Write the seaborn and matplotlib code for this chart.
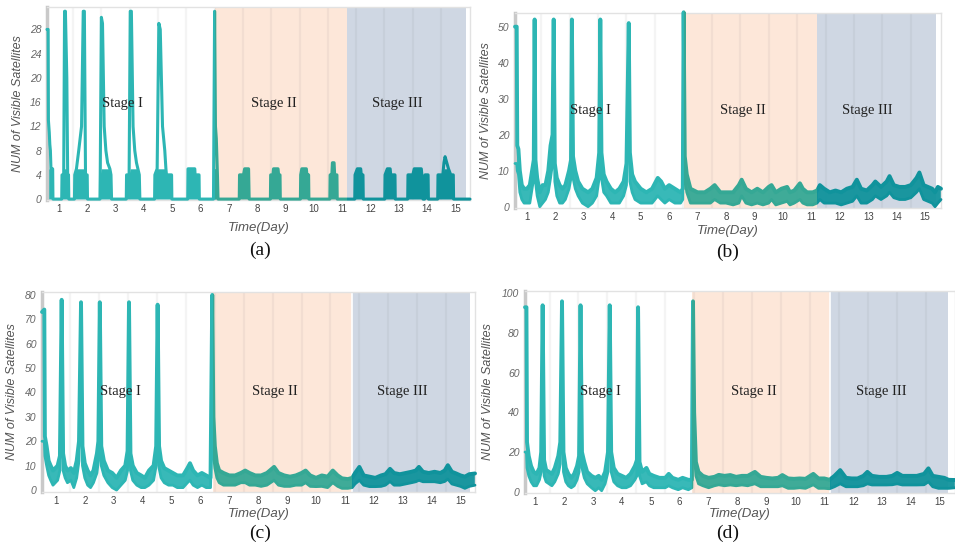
import numpy as np
import matplotlib
matplotlib.use("Agg")
import matplotlib.pyplot as plt
import matplotlib.transforms as mtransforms
from matplotlib.patches import Rectangle
import seaborn as sns

# ---------------- data ----------------
# Panel (a): discrete counts
a_day = [0.58, 0.62, 0.63, 0.66, 0.68, 0.70, 0.72, 0.78, 0.79,
         1.10, 1.11, 1.17, 1.20, 1.23, 1.28, 1.31, 1.34, 1.35,
         1.55, 1.56, 1.62, 1.70, 1.80, 1.86, 1.90, 1.94, 2.00, 2.01,
         2.45, 2.46, 2.50, 2.54, 2.60, 2.66, 2.72, 2.80, 2.84, 2.86,
         3.38, 3.39, 3.48, 3.52, 3.56, 3.62, 3.68, 3.74, 3.79, 3.84, 3.86,
         4.38, 4.39, 4.47, 4.53, 4.58, 4.66, 4.74, 4.78, 4.80, 4.98, 4.99,
         5.55, 5.56, 5.80, 5.81, 5.95, 5.96,
         6.46, 6.50, 6.53, 6.56, 6.60, 6.62,
         7.37, 7.38, 7.52, 7.56, 7.70, 7.72,
         8.47, 8.48, 8.56, 8.58, 8.74, 8.76, 8.81, 8.82,
         9.53, 9.54, 9.58, 9.74, 9.76, 9.82, 9.83,
         10.57, 10.58, 10.64, 10.66, 10.72, 10.74, 10.82, 10.83,
         11.45, 11.46, 11.54, 11.66, 11.68, 11.74, 11.75,
         12.51, 12.52, 12.60, 12.70, 12.72, 12.87, 12.88,
         13.32, 13.33, 13.50, 13.55, 13.80, 13.82, 13.86, 13.92, 13.93, 14.04, 14.05,
         14.38, 14.39, 14.56, 14.60, 14.64, 14.70, 14.76, 14.84, 14.93, 14.94,
         15.52]
a_val = [28, 28, 13, 11, 9, 8, 5, 5, 0,
         0, 4, 4, 31, 31, 20, 4, 4, 0,
         0, 4, 5, 8, 12, 31, 31, 4, 4, 0,
         0, 4, 30, 29, 12, 8, 6, 5, 4, 0,
         0, 4, 4, 31, 31, 12, 8, 6, 5, 4, 0,
         0, 4, 5, 29, 28, 12, 8, 5, 4, 4, 0,
         0, 5, 5, 4, 4, 0,
         0, 31, 12, 10, 4, 0,
         0, 4, 4, 5, 5, 0,
         0, 4, 4, 5, 5, 4, 4, 0,
         0, 4, 5, 5, 4, 4, 0,
         0, 4, 4, 6, 6, 4, 4, 0,
         0, 4, 5, 5, 4, 4, 0,
         0, 4, 5, 5, 4, 4, 0,
         0, 4, 4, 5, 5, 4, 0, 0, 4, 4, 0,
         0, 4, 4, 6, 7, 6, 5, 4, 4, 0,
         0]

# Panel (b): upper / lower envelope of the noisy count
b_day = [0.58, 0.64, 0.66, 0.70, 0.75, 0.82, 0.90, 1.00, 1.10, 1.18, 1.24, 1.27, 1.30, 1.36,
         1.45, 1.55, 1.65, 1.75, 1.83, 1.90, 1.94, 1.98, 2.05, 2.15, 2.25, 2.35, 2.48, 2.55,
         2.58, 2.62, 2.70, 2.80, 2.95, 3.15, 3.30, 3.45, 3.54, 3.58, 3.62, 3.70, 3.80, 3.95,
         4.10, 4.25, 4.40, 4.50, 4.58, 4.62, 4.70, 4.80, 5.00, 5.20, 5.40, 5.60, 5.72, 5.85,
         6.00, 6.20, 6.40, 6.48, 6.51, 6.55, 6.62, 6.75, 7.00, 7.25, 7.45, 7.60, 7.80, 8.00,
         8.25, 8.45, 8.55, 8.70, 8.90, 9.10, 9.30, 9.50, 9.60, 9.75, 9.95, 10.15, 10.25, 10.40,
         10.60, 10.70, 10.85, 11.05, 11.20, 11.30, 11.45, 11.65, 11.85, 12.05, 12.25, 12.45,
         12.60, 12.75, 12.95, 13.15, 13.25, 13.45, 13.65, 13.75, 13.90, 14.10, 14.30, 14.50,
         14.70, 14.80, 14.95, 15.10, 15.25, 15.35, 15.45, 15.56]
b_hi = [50, 50, 17, 16, 10, 6, 5, 5, 6, 10, 13, 52, 13, 8,
        4, 6, 6, 10, 17, 20, 52, 12, 8, 6, 5, 6, 10, 13,
        52, 14, 10, 7, 5, 4, 5, 8, 15, 52, 15, 9, 7, 5,
        4, 5, 7, 12, 51, 15, 9, 7, 5, 4, 5, 8, 7, 5,
        6, 5, 4, 5, 54, 14, 9, 5, 4, 4, 5, 6, 4, 4,
        4, 6, 7.5, 5, 4, 5, 4, 5.5, 6, 4, 5, 5.5, 4, 4.5,
        6.5, 5, 4, 4, 4.5, 6, 5, 4, 4.5, 4, 5, 5.5,
        7.5, 5, 4.5, 6, 7, 5.5, 7, 8.5, 6, 5.5, 5.5, 6,
        8, 9.5, 6, 5.5, 5, 4, 5.5, 5]
b_lo = [12, 12, 10, 9, 4, 2, 1, 1, 1, 5, 8, 40, 7, 3,
        0, 1, 2, 4, 8, 12, 40, 7, 3, 1, 1, 2, 5, 8,
        40, 8, 5, 3, 1, 0, 1, 3, 8, 40, 8, 4, 3, 1,
        1, 1, 3, 6, 40, 7, 4, 2, 1, 1, 1, 3, 2, 1,
        2, 1, 1, 2, 40, 8, 4, 1, 1, 1, 1, 2, 1, 1,
        0.5, 1, 3, 1, 0.5, 1, 0.5, 1, 2, 0.5, 1, 1.5, 0.5, 1,
        2, 1, 0.5, 0.5, 1, 2, 1, 1, 1, 0.5, 1, 1.5,
        3, 1, 1, 2, 3, 2, 3, 4, 2.5, 2, 2, 2.5,
        4, 5, 2, 1.5, 1, 0, 1, 2]

# Panel (c)
c_day = [0.52, 0.60, 0.62, 0.68, 0.75, 0.82, 0.90, 0.98, 1.06, 1.14, 1.20, 1.25, 1.32, 1.40,
         1.52, 1.62, 1.72, 1.80, 1.87, 1.92, 2.00, 2.10, 2.20, 2.30, 2.42, 2.47, 2.52, 2.57,
         2.66, 2.80, 2.95, 3.10, 3.25, 3.40, 3.48, 3.53, 3.58, 3.66, 3.80, 3.95, 4.08, 4.22,
         4.38, 4.47, 4.52, 4.57, 4.64, 4.75, 4.90, 5.05, 5.20, 5.40, 5.55, 5.64, 5.75, 5.90,
         6.05, 6.20, 6.35, 6.41, 6.45, 6.50, 6.57, 6.65, 6.80, 7.00, 7.20, 7.40, 7.55, 7.70,
         7.90, 8.10, 8.30, 8.55, 8.70, 8.90, 9.10, 9.30, 9.50, 9.64, 9.80, 10.00, 10.20, 10.40,
         10.58, 10.75, 10.90, 11.10, 11.25, 11.35, 11.50, 11.65, 11.85, 12.05, 12.25, 12.40,
         12.56, 12.70, 12.90, 13.10, 13.30, 13.45, 13.56, 13.70, 13.90, 14.10, 14.30, 14.45,
         14.56, 14.70, 14.85, 15.00, 15.15, 15.30, 15.50]
c_hi = [73, 74, 22, 18, 12, 10, 8, 9, 10, 14, 78, 15, 10, 8,
        9, 7, 12, 20, 77, 18, 11, 8, 6, 8, 15, 20, 77, 18,
        12, 8, 7, 5, 8, 10, 16, 77, 15, 10, 7, 6, 5, 8,
        10, 18, 76, 18, 12, 9, 8, 7, 6, 6, 9, 11, 8, 6,
        7, 6, 5, 80, 30, 18, 11, 8, 7, 6, 6, 7, 8, 7,
        6, 6, 7, 9.5, 7, 6, 5.5, 6, 7, 8, 6, 5, 6, 5.5,
        8, 6, 4.8, 4.5, 5, 7, 9.5, 6, 5.5, 5, 6, 6.5,
        8.7, 7, 6.5, 7, 7.5, 8, 9.5, 7.5, 7, 7.5, 7, 8,
        10.2, 7.5, 6.8, 6, 5.5, 6.5, 6.8]
c_lo = [20, 20, 14, 10, 6, 4, 2, 3, 4, 8, 60, 8, 5, 3,
        4, 1, 5, 12, 60, 10, 5, 2, 1, 3, 7, 12, 60, 10,
        6, 3, 1, 0, 2, 4, 8, 60, 8, 4, 2, 1, 1, 2,
        4, 10, 58, 9, 5, 3, 2, 2, 1, 1, 3, 4, 2, 1,
        2, 1, 1, 30, 15, 9, 5, 3, 2, 2, 2, 3, 3, 2,
        2, 1.5, 2, 4, 2, 1.5, 1.5, 2, 2, 3, 1.5, 1.4, 1.5, 1,
        3, 1.5, 0.7, 0.7, 1, 2.5, 4, 2, 1.4, 1.4, 1.5, 2,
        3.5, 2, 2, 2.5, 3, 3.4, 4, 3.4, 3.4, 3.4, 3, 3.5,
        4.5, 2.5, 2, 1.5, 0.7, 1.5, 2]

# Panel (d)
d_day = [0.65, 0.70, 0.72, 0.78, 0.86, 0.95, 1.05, 1.15, 1.21, 1.26, 1.31, 1.38, 1.48, 1.58,
         1.68, 1.80, 1.87, 1.93, 1.98, 2.06, 2.15, 2.25, 2.35, 2.45, 2.52, 2.57, 2.62, 2.70,
         2.80, 2.95, 3.08, 3.20, 3.30, 3.42, 3.52, 3.58, 3.63, 3.72, 3.85, 4.00, 4.15, 4.30,
         4.45, 4.52, 4.56, 4.61, 4.70, 4.85, 4.95, 5.10, 5.30, 5.50, 5.62, 5.75, 5.95, 6.10,
         6.30, 6.42, 6.46, 6.50, 6.56, 6.65, 6.80, 7.00, 7.20, 7.35, 7.55, 7.75, 7.95, 8.15,
         8.35, 8.60, 8.80, 9.00, 9.20, 9.40, 9.55, 9.75, 9.95, 10.15, 10.35, 10.62, 10.80, 11.00,
         11.18, 11.35, 11.55, 11.75, 11.95, 12.15, 12.35, 12.49, 12.65, 12.90, 13.15, 13.35,
         13.52, 13.70, 13.95, 14.20, 14.45, 14.60, 14.75, 14.95, 15.15, 15.30, 15.52]
d_hi = [93, 93, 25, 18, 13, 10, 9, 12, 20, 94, 16, 11, 10, 9,
        12, 18, 25, 96, 20, 12, 9, 7, 9, 13, 18, 94, 20, 15,
        10, 8, 7, 8, 6, 10, 20, 94, 20, 12, 9, 8, 7, 9,
        13, 16, 93, 15, 10, 12, 9, 8, 7, 7, 9, 7, 6, 7,
        6, 6, 96, 40, 15, 10, 8, 7, 7.5, 8.5, 8, 8.4, 7.5, 8,
        8, 10, 7.5, 7, 6.7, 7, 8.4, 6.7, 6.5, 6.7, 6.5, 9, 6.7, 6.7,
        6, 8, 10.9, 7, 6.7, 6.7, 8, 10, 8, 7.5, 7.5, 8,
        9.5, 8, 8, 8, 9, 11.8, 8, 7.5, 7, 6, 5.9]
d_lo = [20, 20, 12, 8, 5, 3, 3, 6, 10, 70, 8, 5, 4, 3,
        5, 9, 14, 70, 10, 5, 3, 2, 3, 6, 10, 70, 12, 7,
        4, 2, 0.5, 2, 0.5, 4, 10, 70, 10, 5, 3, 2, 2, 3,
        6, 8, 70, 8, 4, 5, 3, 2, 2, 2, 3, 2, 1, 2,
        1, 2, 60, 20, 8, 4, 3, 2, 3, 3.5, 3, 3.4, 3, 3.4,
        3, 4, 2.5, 2.5, 2.5, 2.5, 3, 1.7, 1.7, 2, 1.7, 3.5, 1.7, 1.7,
        1.5, 2.5, 4, 2.5, 2.5, 2.5, 3, 4, 3.4, 3.4, 3.4, 3.5,
        4, 3.4, 3.4, 3.4, 3.5, 5, 2.5, 1.7, 1.7, 1.7, 2]

panel_labels = ["(a)", "(b)", "(c)", "(d)"]
stage_names = ["Stage I", "Stage II", "Stage III"]
x_ticks = list(range(1, 16))
y_ticks_a = [0, 4, 8, 12, 16, 20, 24, 28]
y_ticks_b = [0, 10, 20, 30, 40, 50]
y_ticks_c = [0, 10, 20, 30, 40, 50, 60, 70, 80]
y_ticks_d = [0, 20, 40, 60, 80, 100]

# ---------------- styling ----------------
sns.set_theme(style="white")
plt.rcParams['font.family'] = ['Liberation Sans', 'DejaVu Sans']

LINE_COLORS = ['#2db6b4', '#35a895', '#10939c']
BG_II = '#fde7d9'
BG_III = '#cfd7e3'

fig = plt.figure(figsize=(9.55, 5.48), dpi=100)

def add_ax(l, t, r, b):
    return fig.add_axes([l / 955, 1 - b / 548, (r - l) / 955, (b - t) / 548])

panels = [
    dict(box=(47, 7, 470, 200), xlim=(0.58, 15.52), ylim=(-0.15, 31.7), yt=y_ticks_a,
         stages=(6.50, 11.18, 15.38), kind='step', day=a_day, val=a_val,
         xl=-0.115, yl=-0.054, lab=(260, 250), sep=False),
    dict(box=(515, 13, 941, 208), xlim=(0.58, 15.56), ylim=(-0.36, 53.8), yt=y_ticks_b,
         stages=(6.53, 11.21, 15.37), kind='band', day=b_day, hi=b_hi, lo=b_lo,
         xl=-0.085, yl=-0.054, lab=(728, 252), sep=False),
    dict(box=(42, 292, 475, 492), xlim=(0.52, 15.50), ylim=(-0.8, 81.2), yt=y_ticks_c,
         stages=(6.44, 11.25, 15.33), kind='band', day=c_day, hi=c_hi, lo=c_lo,
         xl=-0.078, yl=-0.055, lab=(260, 533), sep=True),
    dict(box=(525, 291, 955, 493), xlim=(0.65, 15.52), ylim=(-0.65, 101.2), yt=y_ticks_d,
         stages=(6.43, 11.20, 15.29), kind='band', day=d_day, hi=d_hi, lo=d_lo,
         xl=-0.075, yl=-0.072, lab=(728, 533), sep=True),
]

for p, plab in zip(panels, panel_labels):
    ax = add_ax(*p['box'])
    ax.set_facecolor('white')
    x0, x1 = p['xlim']
    y0, y1 = p['ylim']
    s2, s3, s4 = p['stages']
    ax.axvspan(s2, s3, color=BG_II, lw=0, zorder=0)
    ax.axvspan(s3, s4, color=BG_III, lw=0, zorder=0)
    for g in np.arange(1.5, 15.0, 1.0):
        ax.axvline(g, color=(0.45, 0.45, 0.45, 0.08), lw=1.6, zorder=0.5)
    if p['sep']:
        ax.axvline(s3, color='white', lw=1.2, zorder=0.6)

    segs = [(x0 - 1, s2, LINE_COLORS[0]), (s2, s3, LINE_COLORS[1]), (s3, x1 + 1, LINE_COLORS[2])]
    day = np.array(p['day'], dtype=float)
    for (sa, sb, col) in segs:
        clip = Rectangle((sa, y0 - 10), sb - sa, (y1 - y0) + 20, transform=ax.transData)
        arts = []
        if p['kind'] == 'step':
            val = np.array(p['val'], dtype=float)
            arts.append(ax.fill_between(day, 0, np.minimum(val, 5), color=col, lw=0, zorder=2))
            sns.lineplot(x=day, y=val, ax=ax, color=col, lw=2.2, estimator=None,
                         sort=False, legend=False, zorder=3)
            arts.append(ax.lines[-1])
        else:
            hi = np.array(p['hi'], dtype=float)
            lo = np.array(p['lo'], dtype=float)
            arts.append(ax.fill_between(day, lo, hi, color=col, lw=0, alpha=0.95, zorder=2))
            sns.lineplot(x=day, y=hi, ax=ax, color=col, lw=2.8, estimator=None,
                         sort=False, legend=False, zorder=3)
            arts.append(ax.lines[-1])
            sns.lineplot(x=day, y=lo, ax=ax, color=col, lw=2.0, estimator=None,
                         sort=False, legend=False, zorder=3)
            arts.append(ax.lines[-1])
        for a in arts:
            a.set_clip_path(clip)

    ax.set_xlim(x0, x1)
    ax.set_ylim(y0, y1)
    ax.set_xticks(x_ticks)
    ax.set_xticklabels([str(v) for v in x_ticks], fontsize=7, color='#444444')
    ax.set_yticks(p['yt'])
    ax.set_yticklabels([str(v) for v in p['yt']], fontsize=7.5, color='#666666',
                       fontstyle='italic')
    ax.tick_params(axis='both', length=0)
    ax.tick_params(axis='y', pad=4)
    ax.tick_params(axis='x', pad=3)
    ax.grid(False)

    for side in ['top', 'right', 'bottom']:
        ax.spines[side].set_color('#e2e2e2')
        ax.spines[side].set_linewidth(1.0)
    ax.spines['left'].set_color('#c9c9c9')
    ax.spines['left'].set_linewidth(2.5)

    ax.set_xlabel('Time(Day)', fontsize=9.5, fontstyle='italic', color='#555555')
    ax.xaxis.set_label_coords(0.5, p['xl'])
    ax.set_ylabel('NUM of Visible Satellites', fontsize=9, fontstyle='italic', color='#555555')
    ax.yaxis.set_label_coords(p['yl'], 0.5)

    tr = mtransforms.blended_transform_factory(ax.transData, ax.transAxes)
    for name, xs in zip(stage_names, [3.25, 8.58, 12.97]):
        ax.text(xs, 0.5, name, transform=tr, ha='center', va='center', fontsize=10.5,
                family=['Liberation Serif', 'DejaVu Serif'], color='#222222', zorder=5)

    fig.text(p['lab'][0] / 955, 1 - p['lab'][1] / 548, plab, ha='center', va='center',
             fontsize=14, family=['Liberation Serif', 'DejaVu Serif'], color='#111111')

fig.savefig('out.png', dpi=100)
